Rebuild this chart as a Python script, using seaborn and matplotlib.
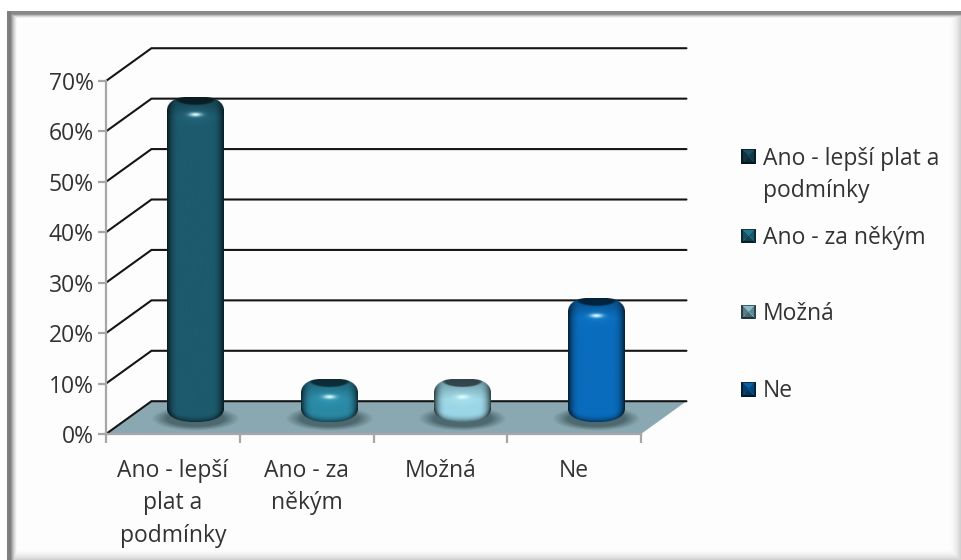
# Graf: sloupcový 3D graf (válce) s legendou

import matplotlib
matplotlib.use("Agg")
import matplotlib.pyplot as plt
from matplotlib.patches import Polygon
import numpy as np
import pandas as pd
import seaborn as sns

# Data
kategorie = ["Ano - lepší\nplat a\npodmínky", "Ano - za\nněkým", "Možná", "Ne"]
legenda = ["Ano - lepší plat a\npodmínky", "Ano - za někým", "Možná", "Ne"]
hodnoty = [63, 7, 7, 23]
osa_y = [0, 10, 20, 30, 40, 50, 60, 70]

# Barvy: střed válce
barvy = ["#1d5a6e", "#2a88a3", "#9ad6e6", "#0a6cbc"]
hloubka_x = 0.34   # posun zadní stěny v kategoriích
hloubka_y = 6.5    # posun zadní stěny v procentech
posun_valce = 0.165
pisma = ["Open Sans", "DejaVu Sans"]
barva_textu = "#333333"
vel_pisma = 16.5

sns.set_theme(style="white")
plt.rcParams["font.family"] = pisma

W, H = 961, 560
fig = plt.figure(figsize=(W / 100, H / 100), dpi=100, facecolor="white")


def hex_rgb(c):
    return np.array(matplotlib.colors.to_rgb(c))


# Rámeček kolem celého obrázku
def ramecek():
    yy, xx = np.mgrid[0:H, 0:W].astype(float)
    tma = np.zeros((H, W))
    tma = np.maximum(tma, np.clip(1 - (xx - 10) / 7, 0, 1) ** 1.5 * 0.5)
    tma = np.maximum(tma, np.clip(1 - (yy - 14) / 4, 0, 1) ** 1.5 * 0.4)
    tma = np.maximum(tma, ((xx >= 7) & (xx < 10)) * 0.46)
    tma = np.maximum(tma, ((yy >= 11) & (yy < 14)) * 0.46)
    tma = np.maximum(tma, np.clip((xx - 948) / 13, 0, 1) ** 2 * 0.2)
    tma = np.maximum(tma, np.clip((yy - 548) / 12, 0, 1) ** 2 * 0.2)
    tma[(xx < 7) | (yy < 11)] = 0
    img = np.ones((H, W, 3)) * 0.993 * (1 - tma)[..., None]
    img[(xx < 7) | (yy < 11)] = 1
    bg = fig.add_axes([0, 0, 1, 1], zorder=0)
    bg.imshow(img, aspect="auto", interpolation="nearest")
    bg.axis("off")


ramecek()

ax = fig.add_axes([106 / W, 1 - 434 / H, 535 / W, 353 / H], zorder=1)
ax.patch.set_alpha(0)

df = pd.DataFrame({"kategorie": kategorie, "hodnota": hodnoty})
sns.barplot(data=df, x="kategorie", y="hodnota", hue="kategorie", palette=barvy,
            width=0.42, saturation=1, legend=False, ax=ax)
sloupce = [p for p in ax.patches]
ax.set_xlim(-0.5, 3.5)
ax.set_ylim(0, 70)

# Podlaha
x0, x1 = -0.5, 3.5
ax.add_patch(Polygon([(x0, 0), (x0 + hloubka_x, hloubka_y), (x1 + hloubka_x, hloubka_y), (x1, 0)],
                     closed=True, facecolor="#8aa8b1", edgecolor="none", zorder=1, clip_on=False))

# Mřížka na zadní stěně a boční straně
for v in osa_y:
    ax.plot([x0, x0 + hloubka_x, x1 + hloubka_x], [v, v + hloubka_y, v + hloubka_y],
            color="#151515", lw=1.5, zorder=2, clip_on=False, solid_joinstyle="miter")


# Stín pod válcem
def stin(cx):
    s_x, s_y = 0.33, 2.4
    ny, nx = 80, 160
    yy, xx = np.mgrid[-1:1:ny * 1j, -1:1:nx * 1j]
    r = np.sqrt(xx ** 2 + yy ** 2)
    a = np.clip((1 - r) / 0.35, 0, 1) ** 1.1 * 0.8
    img = np.zeros((ny, nx, 4))
    img[..., :3] = hex_rgb("#3f5960")
    img[..., 3] = a
    ax.imshow(img, extent=[cx - s_x, cx + s_x, 3.0 - s_y, 3.0 + s_y], aspect="auto",
              zorder=3, clip_on=False)


# Válec podle sloupce ze seaborn: kapsle s tmavými okraji a horní ploškou
def valec(patch):
    barva = hex_rgb(matplotlib.colors.to_hex(patch.get_facecolor()))
    cx = patch.get_x() + patch.get_width() / 2 + posun_valce
    sirka = patch.get_width()
    hodnota = patch.get_height()
    spodek = 2.4
    vrsek = hodnota + 3.8
    patch.set_visible(False)

    px_w = sirka * 535 / 4
    px_h = (vrsek - spodek) * 353 / 70
    ss = 4
    nx, ny = int(px_w * ss), int(px_h * ss)
    v, u = np.mgrid[0:ny, 0:nx].astype(float)
    u = (u + 0.5) / nx * 2 - 1
    v = (v + 0.5) / ss   # px od vrsku dolů
    a = np.abs(u)

    # Obrys: dole mělký oblouk, nahoře zaoblené rohy
    hrana_dole = px_h - 14.0 * (1 - (1 - np.clip(a, 0, 1) ** 2.3) ** (1 / 2.3))
    t = np.clip((a - 0.3) / 0.7, 0, 1)
    hrana_nahore = 14.0 * (1 - (1 - t ** 2.2) ** (1 / 2.2))
    maska = (v <= hrana_dole) & (v >= hrana_nahore)

    # Boční stínování
    f = 1.0 - 0.72 * np.clip((a - 0.55) / 0.45, 0, 1) ** 2.4
    rgb = barva[None, None, :] * f[..., None]

    # Tmavší spodek
    dolni = np.clip((v - (hrana_dole - 8)) / 8, 0, 1)
    rgb = rgb * (1 - 0.5 * dolni ** 2)[..., None]

    # Ztmavení ramene nahoře a tmavá horní ploška
    rameno = np.clip(1 - v / 20, 0, 1)
    rgb = rgb * (1 - 0.3 * rameno)[..., None]
    elipsa = (u / 0.72) ** 2 + ((v - 1.5) / 6.5) ** 2
    plocha = np.clip((1.1 - elipsa) / 0.35, 0, 1)
    tmava = barva * 0.32
    rgb = rgb * (1 - plocha[..., None]) + tmava * plocha[..., None]

    # Záře a lesk
    zare = np.exp(-((u * px_w / 2 / 15) ** 2 + ((v - 18) / 7) ** 2)) * 0.22
    lesk = np.exp(-((u * px_w / 2 / 6) ** 2 + ((v - 17.5) / 2.0) ** 2))
    svetlo = np.clip(barva * 1.3 + 0.1, 0, 1)
    rgb = rgb + (svetlo - rgb) * zare[..., None]
    rgb = rgb + (np.array([0.85, 1, 1]) - rgb) * lesk[..., None]

    img = np.dstack([np.clip(rgb, 0, 1), maska.astype(float)])
    ax.imshow(img, extent=[cx - sirka / 2, cx + sirka / 2, vrsek - px_h * 70 / 353, vrsek],
              aspect="auto", zorder=4, clip_on=False, interpolation="antialiased")


for p in sloupce:
    stin(p.get_x() + p.get_width() / 2 + posun_valce)
    valec(p)

ax.set_xlim(-0.5, 3.5)
ax.set_ylim(0, 70)

# Osy
sns.despine(ax=ax, top=True, right=True)
for s in ["left", "bottom"]:
    ax.spines[s].set_color("#a6a6a6")
    ax.spines[s].set_linewidth(1.6)
    ax.spines[s].set_zorder(5)
ax.set_xlabel("")
ax.set_ylabel("")
ax.set_yticks(osa_y)
ax.set_yticklabels([f"{v}%" for v in osa_y])
ax.set_xticks(range(len(kategorie)))
ax.set_xticklabels(kategorie, linespacing=1.47)
ax.set_xticks(np.arange(-0.5, 4, 1), minor=True)
ax.tick_params(axis="x", which="major", length=0, pad=18, labelsize=vel_pisma, labelcolor=barva_textu)
ax.tick_params(axis="x", which="minor", length=6.5, width=1.6, color="#a6a6a6", bottom=True)
ax.tick_params(axis="y", length=5.8, width=1.6, color="#a6a6a6", pad=3, labelsize=vel_pisma,
               labelcolor=barva_textu, left=True)


# Legenda
def ctverecek(lax, barva):
    n = 15
    yy, xx = np.mgrid[-1:1:n * 1j, -1:1:n * 1j]
    img = np.tile(hex_rgb(barva) * 0.8, (n, n, 1))
    img[xx > np.abs(yy)] *= 0.8
    img[-xx > np.abs(yy)] *= 0.72
    img[yy > np.abs(xx)] *= 0.6
    img[-yy > np.abs(xx)] *= 1.1
    img[np.maximum(np.abs(xx), np.abs(yy)) > 0.85] *= 0.5
    lax.imshow(np.clip(img, 0, 1), aspect="auto", interpolation="nearest")
    lax.axis("off")


radky_y = [157, 236, 312, 389]
for text, barva, y in zip(legenda, barvy, radky_y):
    lax = fig.add_axes([741 / W, 1 - (y + 7.5) / H, 15 / W, 15 / H], zorder=2)
    ctverecek(lax, barva)
    fig.text(763 / W, 1 - (y - 10) / H, text, ha="left", va="top", fontsize=vel_pisma,
             color=barva_textu, linespacing=1.47)

fig.savefig("out.png", dpi=100)
